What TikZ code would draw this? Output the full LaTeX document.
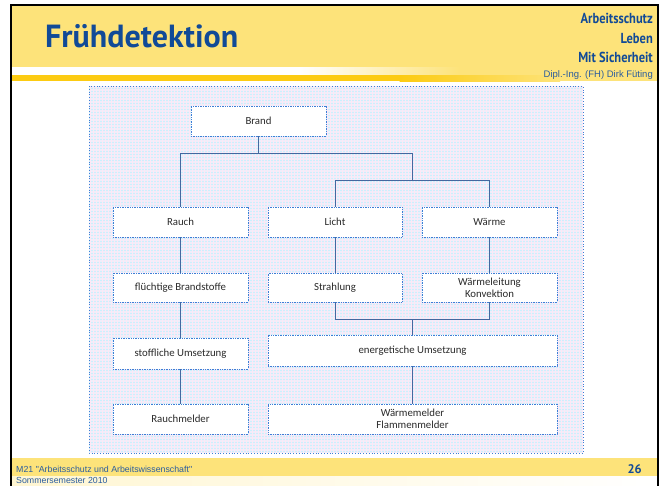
\documentclass[tikz,border=0pt]{standalone}
\usepackage{fontspec}
\setmainfont{Carlito}
\newfontfamily\titlefont{PT Sans}
\newfontfamily\hdrfont[FakeStretch=0.86]{PT Sans}
\newfontfamily\arialfont{Liberation Sans}
\definecolor{hdr}{HTML}{FDE37A}
\definecolor{gold}{HTML}{FCCB12}
\definecolor{tblue}{HTML}{114A97}
\definecolor{fblue}{HTML}{2A5C9E}
\definecolor{bord}{HTML}{3D7FD6}
\definecolor{panel}{HTML}{EEEEFA}
\definecolor{boxtext}{HTML}{2A2A2A}
\definecolor{lineblue}{HTML}{4468A0}
\definecolor{cream}{HTML}{FFF6D2}
\tikzset{
  bx/.style={draw=bord, densely dotted, fill=white, line width=0.7pt,
    minimum width=135pt, minimum height=30pt, inner sep=0pt,
    font=\fontsize{10.8}{12}\selectfont, text=boxtext, align=center},
  wide/.style={bx, minimum width=289pt},
  conn/.style={draw=lineblue, line width=0.75pt},
}
\begin{document}
\begin{tikzpicture}[x=1pt,y=-1pt]
\clip (0,0) rectangle (666,485);
\fill[white] (0,0) rectangle (666,485);
% header
\fill[hdr] (12,6) rectangle (657,81);
\fill[white] (12,67) rectangle (300,75);
\shade[left color=white, right color=hdr] (299.5,67) rectangle (460,75);
\fill[gold] (12,75) rectangle (400,81);
\shade[left color=gold, right color=hdr] (399.5,75) rectangle (560,81);
% footer
\fill[hdr] (12,458) rectangle (657,476);
\shade[left color=cream, right color=white] (12,476) rectangle (657,486);
% frame
\draw[black, line width=2pt] (11,486) -- (11,5) -- (658,5) -- (658,486);
% header texts
\node[anchor=base west, inner sep=0pt, text=tblue, font=\titlefont\bfseries\fontsize{32}{32}\selectfont] (title) at (45,47) {Frühdetektion};
\node[anchor=base east, inner sep=0pt, text=tblue, font=\hdrfont\bfseries\fontsize{14.5}{14}\selectfont] (h1) at (653,23) {Arbeitsschutz};
\node[anchor=base east, inner sep=0pt, text=tblue, font=\hdrfont\bfseries\fontsize{14.5}{14}\selectfont] (h2) at (653,43) {Leben};
\node[anchor=base east, inner sep=0pt, text=tblue, font=\hdrfont\bfseries\fontsize{14.5}{14}\selectfont] (h3) at (653,62) {Mit Sicherheit};
\node[anchor=base east, inner sep=0pt, text=fblue, font=\arialfont\fontsize{9.5}{10}\selectfont] (h4) at (653,77) {Dipl.-Ing. (FH) Dirk Füting};
% footer texts
\node[anchor=base west, inner sep=0pt, text=fblue, font=\arialfont\fontsize{8.8}{9}\selectfont] (f1) at (16,472) {M21 "Arbeitsschutz und Arbeitswissenschaft"};
\node[anchor=base west, inner sep=0pt, text=fblue, font=\arialfont\fontsize{8.8}{9}\selectfont] (f2) at (16,483) {Sommersemester 2010};
\node[anchor=base east, inner sep=0pt, text=tblue, font=\titlefont\bfseries\fontsize{12.5}{12}\selectfont] (pg) at (642,473) {26};
% panel
\fill[panel] (89,86) rectangle (583,453);
\draw[cyan!20, line width=0.35pt] \foreach \yy in {88,91,...,452} {(89,\yy) -- (583,\yy)};
\draw[magenta!9, line width=0.35pt] \foreach \xx in {90,93,...,582} {(\xx,86) -- (\xx,453)};
\draw[bord, dotted, line width=0.8pt] (89,86) rectangle (583,453);
% boxes
\node[bx] (brand) at (258.5,121) {Brand};
\node[bx] (rauch) at (180.5,222) {Rauch};
\node[bx, minimum width=134pt] (licht) at (335,222) {Licht};
\node[bx] (waerme) at (489.5,222) {Wärme};
\node[bx, minimum height=29pt] (fluecht) at (180.5,287.5) {flüchtige Brandstoffe};
\node[bx, minimum height=29pt, minimum width=134pt] (strahl) at (335,287.5) {Strahlung};
\node[bx, minimum height=29pt] (wleit) at (489.5,287.5) {Wärmeleitung\\Konvektion};
\node[bx, minimum height=31pt] (stoff) at (180.5,353.5) {stoffliche Umsetzung};
\node[wide, minimum height=31pt] (energ) at (412.5,350.5) {energetische Umsetzung};
\node[bx] (rmelder) at (180.5,419) {Rauchmelder};
\node[wide] (wmelder) at (412.5,419) {Wärmemelder\\Flammenmelder};
% connectors
\coordinate (bj) at (258.5,153);
\coordinate (lw) at (412.5,180);
\coordinate (ej) at (412.5,319);
\draw[conn] (brand.south) -- (bj);
\draw[conn] (rauch.north) |- (bj);
\draw[conn] (bj) -| (lw);
\draw[conn] (licht.north) |- (lw);
\draw[conn] (lw) -| (waerme.north);
\draw[conn] (rauch) -- (fluecht);
\draw[conn] (fluecht) -- (stoff);
\draw[conn] (stoff) -- (rmelder);
\draw[conn] (licht) -- (strahl);
\draw[conn] (waerme) -- (wleit);
\draw[conn] (strahl.south) |- (ej);
\draw[conn] (wleit.south) |- (ej);
\draw[conn] (ej) -- (energ.north);
\draw[conn] (energ) -- (wmelder);
\end{tikzpicture}
\end{document}
